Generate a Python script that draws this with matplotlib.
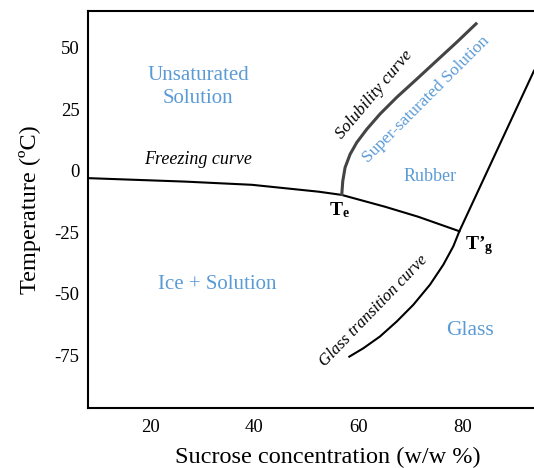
import numpy as np
import matplotlib
matplotlib.use("Agg")
import matplotlib.pyplot as plt

plt.rcParams['font.family'] = ['Liberation Serif', 'DejaVu Serif']
plt.rcParams['mathtext.fontset'] = 'custom'
plt.rcParams['mathtext.rm'] = 'Liberation Serif'
plt.rcParams['mathtext.it'] = 'Liberation Serif:italic'
plt.rcParams['mathtext.bf'] = 'Liberation Serif:bold'
plt.rcParams['axes.unicode_minus'] = False

# Sucrose-water state diagram curves (w/w %, degC)
freezing_x = [8.2, 26.7, 39.5, 52.3, 56.7, 65.0, 71.4, 79.3]
freezing_t = [-3.0, -4.4, -5.7, -8.5, -9.8, -14.6, -18.7, -24.6]

solubility_x = [56.75, 56.94, 57.38, 58.34, 59.62, 61.54, 64.08, 67.29,
                71.12, 74.95, 78.79, 82.49]
solubility_t = [-9.6, -4.2, 1.3, 6.7, 11.5, 16.9, 23.1, 29.9,
                37.3, 44.8, 52.3, 59.8]

glass_x = [58.2, 60.88, 64.08, 67.29, 70.47, 73.67, 76.22, 78.14, 79.29, 93.6]
glass_t = [-75.6, -72.2, -67.4, -61.3, -54.5, -46.3, -38.2, -30.7, -24.6, 40.7]

xticks = [20, 40, 60, 80]
yticks = [50, 25, 0, -25, -50, -75]

region_labels = ["Unsaturated\nSolution", "Rubber", "Ice + Solution", "Glass"]
region_pos = [(29.2, 34.0), (73.7, -2.5), (32.8, -46.3), (81.3, -64.8)]
region_size = [15, 13, 15, 15.5]

blue = '#5B9BD5'

fig = plt.figure(figsize=(5.34, 4.68), dpi=100)
ax = fig.add_axes([88 / 534, 60 / 468, 446 / 534, 397 / 468])

ax.plot(freezing_x, freezing_t, color='black', lw=1.5)
ax.plot(solubility_x, solubility_t, color='#444444', lw=2.2)
ax.plot(glass_x, glass_t, color='black', lw=1.5)

ax.set_xlim(8.1, 93.6)
ax.set_ylim(-96.5, 65)
ax.set_xticks(xticks)
ax.set_yticks(yticks)
ax.tick_params(length=0, labelsize=13.5)
ax.tick_params(axis='x', pad=8)
ax.tick_params(axis='y', pad=6)
for s in ['left', 'bottom', 'top']:
    ax.spines[s].set_linewidth(1.5)
ax.spines['right'].set_visible(False)

ax.set_xlabel('Sucrose concentration (w/w %)', fontsize=17.5)
ax.xaxis.set_label_coords(0.538, -0.097)
ax.set_ylabel('Temperature (ºC)', fontsize=17.5, labelpad=10)

for lab, (x, t), fs in zip(region_labels, region_pos, region_size):
    ax.text(x, t, lab, color=blue, fontsize=fs, ha='center', va='center',
            linespacing=1.25)

ax.text(29.1, 4.5, 'Freezing curve', style='italic', fontsize=13,
        ha='center', va='center')
ax.text(63.0, 31, 'Solubility curve', style='italic', fontsize=12.5,
        ha='center', va='center', rotation=50)
ax.text(73.0, 29, 'Super-saturated Solution', color=blue, fontsize=12.5,
        ha='center', va='center', rotation=45)
ax.text(62.8, -57, 'Glass transition curve', style='italic', fontsize=12,
        ha='center', va='center', rotation=46)

ax.text(56.4, -16, r'$\mathbf{T}_\mathbf{e}$', fontsize=14,
        ha='center', va='center')
ax.text(83.0, -30.5, r"$\mathbf{T’}_\mathbf{g}$", fontsize=14,
        ha='center', va='center')

fig.savefig('out.png', dpi=100)
